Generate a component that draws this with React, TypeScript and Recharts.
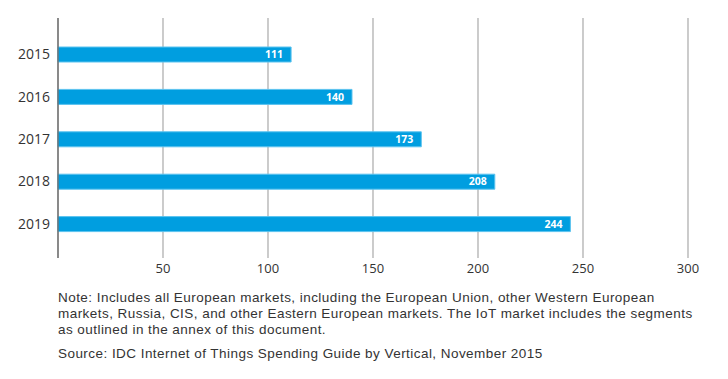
import { BarChart, Bar, XAxis, YAxis, CartesianGrid, LabelList } from 'recharts';

const years = ['2015', '2016', '2017', '2018', '2019'];
const spending = [111, 140, 173, 208, 244];
const xTicks = [50, 100, 150, 200, 250, 300];

const noteLines = [
  'Note: Includes all European markets, including the European Union, other Western European',
  'markets, Russia, CIS, and other Eastern European markets. The IoT market includes the segments',
  'as outlined in the annex of this document.'
];
const sourceLine = 'Source: IDC Internet of Things Spending Guide by Vertical, November 2015';

const FONT = '"Open Sans", "Liberation Sans", sans-serif';
const NOTE_FONT = '"Liberation Sans", Arial, sans-serif';

export default function App() {
  const data = years.map((year, i) => ({ year, value: spending[i] }));

  return (
    <div style={{ position: 'absolute', left: 0, top: 0, width: 728, height: 379, background: '#fff', fontFamily: FONT }}>
      <BarChart
        width={728}
        height={280}
        data={data}
        layout="vertical"
        margin={{ top: 18, right: 40, bottom: 0, left: 0 }}
      >
        <CartesianGrid horizontal={false} stroke="#b0b0b0" strokeWidth={1.3} />
        <XAxis
          type="number"
          domain={[0, 300]}
          ticks={xTicks}
          axisLine={false}
          tickLine={false}
          tickMargin={0}
          height={22}
          tick={{ fill: '#333', fontSize: 13, fontFamily: FONT }}
        />
        <YAxis
          type="category"
          dataKey="year"
          width={58}
          axisLine={{ stroke: '#666', strokeWidth: 1.3 }}
          tickLine={false}
          padding={{ top: 15, bottom: 13 }}
          tick={{ fill: '#333', fontSize: 14, fontFamily: FONT }}
        />
        <Bar dataKey="value" fill="#009ee0" stroke="#5cc3ef" strokeWidth={1} barSize={15} isAnimationActive={false}>
          <LabelList
            dataKey="value"
            position="insideRight"
            offset={8}
            fill="#fff"
            fontSize={10.5}
            fontWeight="bold"
            fontFamily={FONT}
          />
        </Bar>
      </BarChart>
      <div style={{ position: 'absolute', left: 58, top: 290, fontFamily: NOTE_FONT, fontSize: 13.5, lineHeight: '16px', letterSpacing: 0.45, color: '#333', whiteSpace: 'nowrap' }}>
        {noteLines.map((line) => (
          <div key={line}>{line}</div>
        ))}
        <div style={{ marginTop: 8 }}>{sourceLine}</div>
      </div>
    </div>
  );
}
